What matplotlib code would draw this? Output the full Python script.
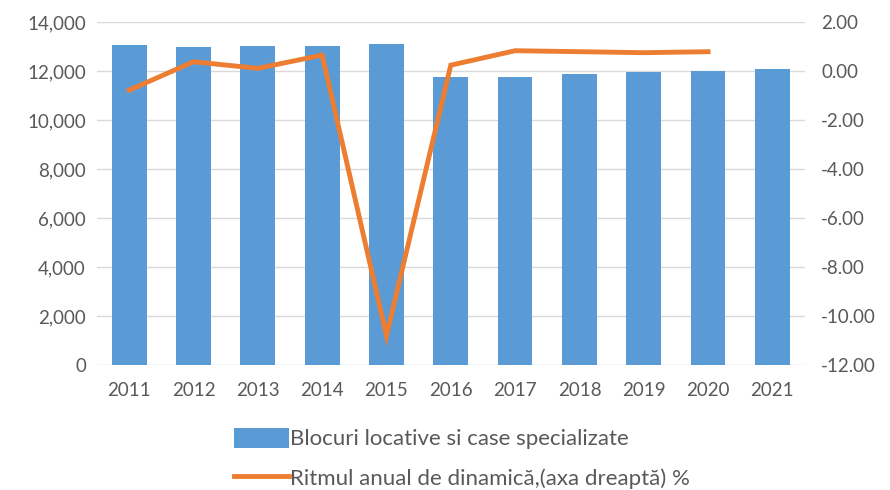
import matplotlib.pyplot as plt
import numpy as np

plt.rcParams['font.family'] = ['Lato', 'DejaVu Sans']

years = ['2011', '2012', '2013', '2014', '2015', '2016', '2017', '2018', '2019', '2020', '2021']
blocuri = [13080, 12980, 13030, 13030, 13120, 11760, 11770, 11860, 11960, 12000, 12090]
ritm = [-0.78, 0.38, 0.11, 0.65, -10.8, 0.24, 0.83, 0.79, 0.75, 0.79]

bar_col = '#5B9BD5'
line_col = '#ED7D31'
txt_col = '#595959'

fig = plt.figure(figsize=(8.9, 4.9), dpi=100)
ax = fig.add_axes([0.109, 0.255, 0.795, 0.70])
x = np.arange(len(years))
b = ax.bar(x, blocuri, width=0.54, color=bar_col, zorder=2,
           label='Blocuri locative si case specializate')
ax.set_ylim(0, 14000)
ax.set_yticks(np.arange(0, 14001, 2000))
ax.set_yticklabels([f'{v:,}' for v in range(0, 14001, 2000)])
ax.set_xlim(-0.5, len(years) - 0.5)
ax.set_xticks(x)
ax.set_xticklabels(years)
ax.grid(axis='y', color='#D9D9D9', lw=1, zorder=0)
for s in ax.spines.values():
    s.set_visible(False)
ax.tick_params(length=0, labelsize=13.5, colors=txt_col, pad=8)
ax.tick_params(axis='x', pad=12)

ax2 = ax.twinx()
l, = ax2.plot(x[:len(ritm)], ritm, color=line_col, lw=3.5, zorder=3,
              solid_joinstyle='miter',
              label='Ritmul anual de dinamică,(axa dreaptă) %')
ax2.set_ylim(-12, 2)
ax2.set_yticks(np.arange(-12, 2.01, 2))
ax2.set_yticklabels([f'{v:.2f}' for v in np.arange(-12, 2.01, 2)])
for s in ax2.spines.values():
    s.set_visible(False)
ax2.tick_params(length=0, labelsize=13.5, colors=txt_col, pad=12)

leg = fig.legend([b, l], [b.get_label(), l.get_label()], loc='upper left',
                 bbox_to_anchor=(0.25, 0.15), ncol=1, frameon=False,
                 fontsize=16, handlelength=2.5, handleheight=1.0,
                 handletextpad=0.05, labelspacing=0.8, borderpad=0)
for t in leg.get_texts():
    t.set_color(txt_col)

fig.savefig('out.png', dpi=100)
